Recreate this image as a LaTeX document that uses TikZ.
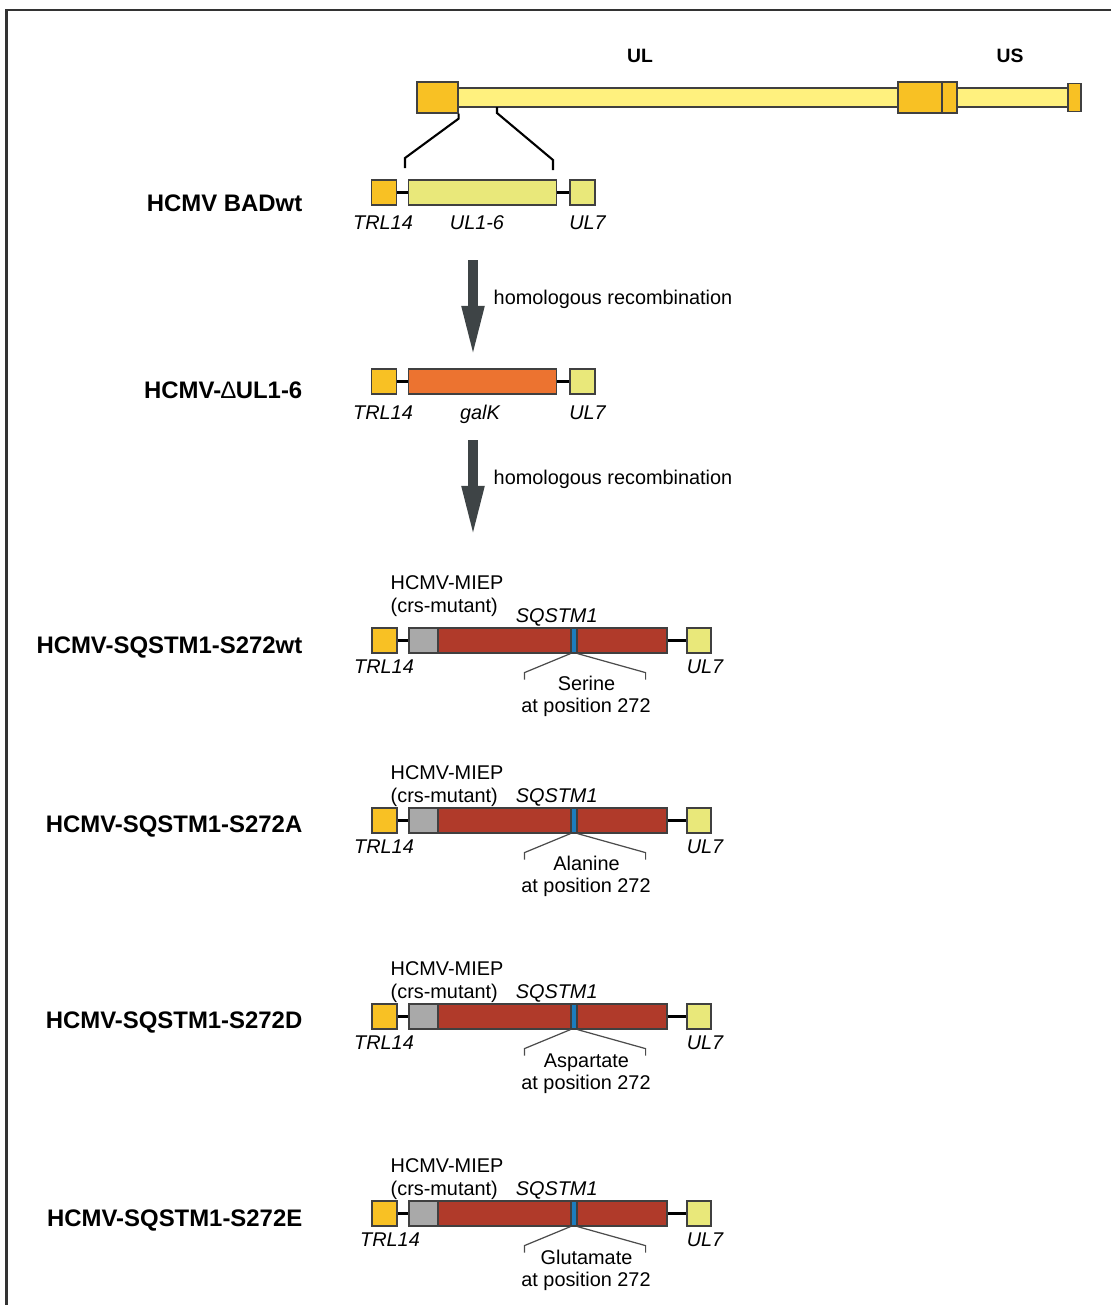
\documentclass[tikz,border=0pt]{standalone}
\usepackage{fontspec}
\setmainfont{Liberation Sans}
\usetikzlibrary{arrows.meta}
\definecolor{trlgold}{HTML}{F8C124}
\definecolor{baryellow}{HTML}{FFF17E}
\definecolor{paleyellow}{HTML}{E9E87A}
\definecolor{galkorange}{HTML}{EC7330}
\definecolor{miepgray}{HTML}{A9A9A9}
\definecolor{sqred}{HTML}{B03A2A}
\definecolor{posblue}{HTML}{1C7DBE}
\definecolor{arrowgray}{HTML}{3E4446}
\begin{document}
\begin{tikzpicture}[x=0.01cm, y=-0.01cm,
  box/.style={draw=black!75, line width=0.35pt, inner sep=0pt, minimum height=0.25cm},
  txt/.style={font=\fontsize{5.65}{7}\selectfont, inner sep=0pt, anchor=base},
  gene/.style={font=\fontsize{5.65}{7}\selectfont\itshape, inner sep=0pt, anchor=base},
  region/.style={font=\fontsize{5.5}{7}\selectfont\bfseries, inner sep=0pt, anchor=base},
  strain/.style={font=\fontsize{6.8}{8}\selectfont\bfseries, inner sep=0pt, anchor=base east},
  link/.style={line width=0.6pt},
  bracket/.style={draw=black!70, line width=0.35pt},
  recomb/.style={draw=arrowgray, line width=0.1cm, -{Triangle[length=0.53cm, width=0.2cm]}}]
\useasboundingbox (0,0) rectangle (1111,1305);
\draw[line width=0.6pt, black!80] (6.5,1305) -- (6.5,10) -- (1111,10);

\node[box, fill=baryellow, minimum width=6.1cm, minimum height=0.19cm] (bar) at (763,97.5) {};
\node[box, fill=trlgold, minimum width=0.41cm, minimum height=0.31cm] (trl) at (437.5,97.5) {};
\node[box, fill=trlgold, minimum width=0.44cm, minimum height=0.31cm] (irl) at (920,97.5) {};
\node[box, fill=trlgold, minimum width=0.15cm, minimum height=0.31cm] (irs) at (949.5,97.5) {};
\node[box, fill=trlgold, minimum width=0.13cm, minimum height=0.28cm] (trs) at (1074.5,97.5) {};
\node[region] (ul) at (640,62) {UL};
\node[region] (us) at (1010,62) {US};

\coordinate (zs) at (497,107);
\coordinate (zl) at (405,168);
\coordinate (zr) at (553,170);
\draw[link] (trl.south east) -- ++(0,5) -- (405,158) -- (zl);
\draw[link] (zs) -- ++(0,6) -- (553,160) -- (zr);

\node[box, fill=trlgold, minimum width=0.25cm] (wttrl) at (384,192.5) {};
\node[box, fill=paleyellow, minimum width=1.48cm] (wtul) at (482.5,192.5) {};
\node[box, fill=paleyellow, minimum width=0.25cm] (wtul7) at (582.5,192.5) {};
\draw[link] (wttrl) -- (wtul);
\draw[link] (wtul) -- (wtul7);
\node[gene] (wttrltxt) at (383,229) {TRL14};
\node[gene] (wtultxt) at (477,229) {UL1-6};
\node[gene] (wtul7txt) at (587.5,229) {UL7};
\node[strain] (wtname) at (303,211.5) {HCMV BADwt};

\coordinate (a1s) at (473,260);
\coordinate (a1e) at (473,359);
\draw[recomb] (a1s) -- (a1e);
\node[txt, anchor=base west] (a1txt) at (493,304) {homologous recombination};

\node[box, fill=trlgold, minimum width=0.25cm] (dtrl) at (384,381.5) {};
\node[box, fill=galkorange, minimum width=1.48cm] (dgalk) at (482.5,381.5) {};
\node[box, fill=paleyellow, minimum width=0.25cm] (dul7) at (582.5,381.5) {};
\draw[link] (dtrl) -- (dgalk);
\draw[link] (dgalk) -- (dul7);
\node[gene] (dtrltxt) at (383,419) {TRL14};
\node[gene] (dgalktxt) at (480,419) {galK};
\node[gene] (dul7txt) at (587.5,419) {UL7};
\node[strain] (dname) at (303,398) {HCMV-{\mdseries ∆}UL1-6};

\coordinate (a2s) at (473,440);
\coordinate (a2e) at (473,539);
\draw[recomb] (a2s) -- (a2e);
\node[txt, anchor=base west] (a2txt) at (493,484) {homologous recombination};

\node[box, fill=trlgold, minimum width=0.25cm] (r1trl) at (384.5,640.5) {};
\node[box, fill=miepgray, minimum width=0.29cm] (r1miep) at (423.5,640.5) {};
\node[box, fill=sqred, minimum width=2.29cm] (r1sq) at (552.5,640.5) {};
\node[box, fill=posblue, minimum width=0.06cm] (r1pos) at (574,640.5) {};
\node[box, fill=paleyellow, minimum width=0.24cm] (r1ul7) at (699,640.5) {};
\draw[link] (r1trl) -- (r1miep);
\draw[link] (r1sq) -- (r1ul7);
\draw[bracket] (r1pos.south west) -- ++(-46,19) -- ++(0,7);
\draw[bracket] (r1pos.south east) -- ++(68,19) -- ++(0,7);
\node[txt, anchor=base west] (r1mieptxt) at (390,589) {HCMV-MIEP};
\node[txt, anchor=base west] (r1crstxt) at (390,612) {(crs-mutant)};
\node[gene] (r1sqtxt) at (556.7,622) {SQSTM1};
\node[gene] (r1trltxt) at (384,673) {TRL14};
\node[gene] (r1ul7txt) at (705,673) {UL7};
\node[txt] (r1aa) at (586.5,690) {Serine};
\node[txt] (r1at) at (586,712) {at position 272};
\node[strain] (r1name) at (303,653) {HCMV-SQSTM1-S272wt};

\node[box, fill=trlgold, minimum width=0.25cm] (r2trl) at (384.5,820.5) {};
\node[box, fill=miepgray, minimum width=0.29cm] (r2miep) at (423.5,820.5) {};
\node[box, fill=sqred, minimum width=2.29cm] (r2sq) at (552.5,820.5) {};
\node[box, fill=posblue, minimum width=0.06cm] (r2pos) at (574,820.5) {};
\node[box, fill=paleyellow, minimum width=0.24cm] (r2ul7) at (699,820.5) {};
\draw[link] (r2trl) -- (r2miep);
\draw[link] (r2sq) -- (r2ul7);
\draw[bracket] (r2pos.south west) -- ++(-46,19) -- ++(0,7);
\draw[bracket] (r2pos.south east) -- ++(68,19) -- ++(0,7);
\node[txt, anchor=base west] (r2mieptxt) at (390,779) {HCMV-MIEP};
\node[txt, anchor=base west] (r2crstxt) at (390,802) {(crs-mutant)};
\node[gene] (r2sqtxt) at (556.7,802) {SQSTM1};
\node[gene] (r2trltxt) at (384,853) {TRL14};
\node[gene] (r2ul7txt) at (705,853) {UL7};
\node[txt] (r2aa) at (586.5,870) {Alanine};
\node[txt] (r2at) at (586,892) {at position 272};
\node[strain] (r2name) at (303,832) {HCMV-SQSTM1-S272A};

\node[box, fill=trlgold, minimum width=0.25cm] (r3trl) at (384.5,1016.5) {};
\node[box, fill=miepgray, minimum width=0.29cm] (r3miep) at (423.5,1016.5) {};
\node[box, fill=sqred, minimum width=2.29cm] (r3sq) at (552.5,1016.5) {};
\node[box, fill=posblue, minimum width=0.06cm] (r3pos) at (574,1016.5) {};
\node[box, fill=paleyellow, minimum width=0.24cm] (r3ul7) at (699,1016.5) {};
\draw[link] (r3trl) -- (r3miep);
\draw[link] (r3sq) -- (r3ul7);
\draw[bracket] (r3pos.south west) -- ++(-46,19) -- ++(0,7);
\draw[bracket] (r3pos.south east) -- ++(68,19) -- ++(0,7);
\node[txt, anchor=base west] (r3mieptxt) at (390,975) {HCMV-MIEP};
\node[txt, anchor=base west] (r3crstxt) at (390,998) {(crs-mutant)};
\node[gene] (r3sqtxt) at (556.7,998) {SQSTM1};
\node[gene] (r3trltxt) at (384,1049) {TRL14};
\node[gene] (r3ul7txt) at (705,1049) {UL7};
\node[txt] (r3aa) at (586.5,1067) {Aspartate};
\node[txt] (r3at) at (586,1089) {at position 272};
\node[strain] (r3name) at (303,1028) {HCMV-SQSTM1-S272D};

\node[box, fill=trlgold, minimum width=0.25cm] (r4trl) at (384.5,1213.5) {};
\node[box, fill=miepgray, minimum width=0.29cm] (r4miep) at (423.5,1213.5) {};
\node[box, fill=sqred, minimum width=2.29cm] (r4sq) at (552.5,1213.5) {};
\node[box, fill=posblue, minimum width=0.06cm] (r4pos) at (574,1213.5) {};
\node[box, fill=paleyellow, minimum width=0.24cm] (r4ul7) at (699,1213.5) {};
\draw[link] (r4trl) -- (r4miep);
\draw[link] (r4sq) -- (r4ul7);
\draw[bracket] (r4pos.south west) -- ++(-46,19) -- ++(0,7);
\draw[bracket] (r4pos.south east) -- ++(68,19) -- ++(0,7);
\node[txt, anchor=base west] (r4mieptxt) at (390,1172) {HCMV-MIEP};
\node[txt, anchor=base west] (r4crstxt) at (390,1195) {(crs-mutant)};
\node[gene] (r4sqtxt) at (556.7,1195) {SQSTM1};
\node[gene] (r4trltxt) at (390,1246) {TRL14};
\node[gene] (r4ul7txt) at (705,1246) {UL7};
\node[txt] (r4aa) at (586.5,1264) {Glutamate};
\node[txt] (r4at) at (586,1286) {at position 272};
\node[strain] (r4name) at (303,1226) {HCMV-SQSTM1-S272E};
\end{tikzpicture}
\end{document}
